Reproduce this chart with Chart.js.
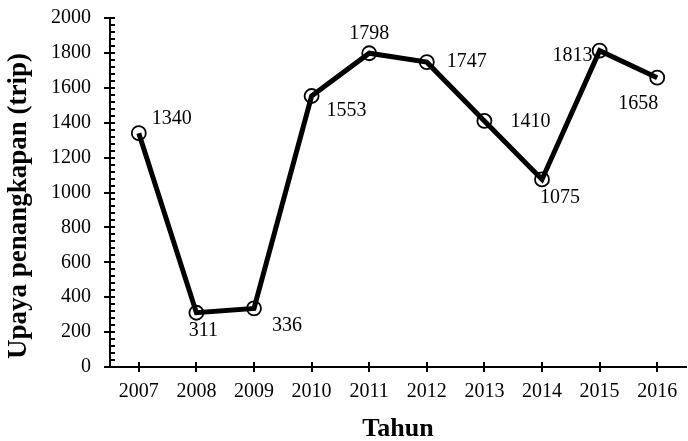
<!DOCTYPE html>
<html>
<head>
<meta charset="utf-8">
<script src="https://cdn.jsdelivr.net/npm/chart.js@4.4.0/dist/chart.umd.min.js"></script>
<style>
  html, body { margin: 0; padding: 0; background: #fff; }
  #wrap { width: 688px; height: 441px; }
</style>
</head>
<body>
<div id="wrap"><canvas id="chart" width="688" height="441"></canvas></div>
<script>
const years = ['2007', '2008', '2009', '2010', '2011', '2012', '2013', '2014', '2015', '2016'];
const trips = [1340, 311, 336, 1553, 1798, 1747, 1410, 1075, 1813, 1658];
// where each value label sits relative to its point (dx, dy)
const labelOffsets = [[33, -14], [7, 18], [33, 17], [35, 15], [0, -19], [40, 0], [46, 1], [18, 18], [-27, 5], [-19, 26]];

const serif = '"Liberation Serif", "Times New Roman", serif';

// ticks that cross the axis lines, plus minor ticks on y
const axisTicks = {
  id: 'axisTicks',
  afterDraw(chart) {
    const { ctx, chartArea: a, scales: { x, y } } = chart;
    ctx.save();
    ctx.strokeStyle = '#000';
    ctx.lineWidth = 2;
    ctx.beginPath();
    for (let v = 0; v <= 2000; v += 40) {
      const py = Math.round(y.getPixelForValue(v));
      if (v % 200 === 0) {
        ctx.moveTo(a.left - 6, py); ctx.lineTo(a.left + 5, py);
      } else {
        ctx.moveTo(a.left, py); ctx.lineTo(a.left + 5, py);
      }
    }
    years.forEach((_, i) => {
      const px = Math.round(x.getPixelForValue(i));
      ctx.moveTo(px, a.bottom - 5); ctx.lineTo(px, a.bottom + 5);
    });
    ctx.stroke();
    ctx.restore();
  }
};

const valueLabels = {
  id: 'valueLabels',
  afterDatasetsDraw(chart) {
    const { ctx } = chart;
    const meta = chart.getDatasetMeta(1);
    ctx.save();
    ctx.fillStyle = '#000';
    ctx.font = '20px ' + serif;
    ctx.textAlign = 'center';
    ctx.textBaseline = 'middle';
    meta.data.forEach((pt, i) => {
      const [dx, dy] = labelOffsets[i];
      ctx.fillText(String(trips[i]), pt.x + dx, pt.y + dy);
    });
    ctx.restore();
  }
};

new Chart(document.getElementById('chart'), {
  type: 'line',
  data: {
    labels: years,
    datasets: [
      {
        data: trips,
        borderColor: '#000',
        borderWidth: 5,
        pointRadius: 0,
        tension: 0,
        order: 1
      },
      {
        data: trips,
        showLine: false,
        pointRadius: 7,
        pointBorderWidth: 1.8,
        pointBorderColor: '#000',
        pointBackgroundColor: '#fff',
        order: 2
      }
    ]
  },
  options: {
    responsive: false,
    animation: false,
    layout: { autoPadding: false, padding: { top: 18, right: 2, left: 0, bottom: 0 } },
    plugins: {
      legend: { display: false },
      tooltip: { enabled: false }
    },
    scales: {
      x: {
        offset: true,
        grid: { display: false },
        border: { color: '#000', width: 2 },
        ticks: { color: '#000', font: { family: serif, size: 20 }, padding: 5, maxRotation: 0 },
        title: { display: true, text: 'Tahun', color: '#000', font: { family: serif, size: 26, weight: 'bold', lineHeight: 0.9 }, padding: { top: 4, bottom: 0 } },
        afterFit(s) { s.height = 74; s.paddingLeft = 0; s.paddingRight = 0; }
      },
      y: {
        min: 0,
        max: 2000,
        grid: { display: false },
        border: { color: '#000', width: 2 },
        ticks: { stepSize: 200, color: '#000', font: { family: serif, size: 20 }, padding: 11, callback: v => String(v) },
        title: { display: true, text: 'Upaya penangkapan (trip)    ', color: '#000', font: { family: serif, size: 27, weight: 'bold' }, padding: { top: 3, bottom: 4 } },
        afterFit(s) { s.width = 110; s.paddingTop = 0; s.paddingBottom = 0; }
      }
    }
  },
  plugins: [axisTicks, valueLabels]
});
</script>
</body>
</html>
